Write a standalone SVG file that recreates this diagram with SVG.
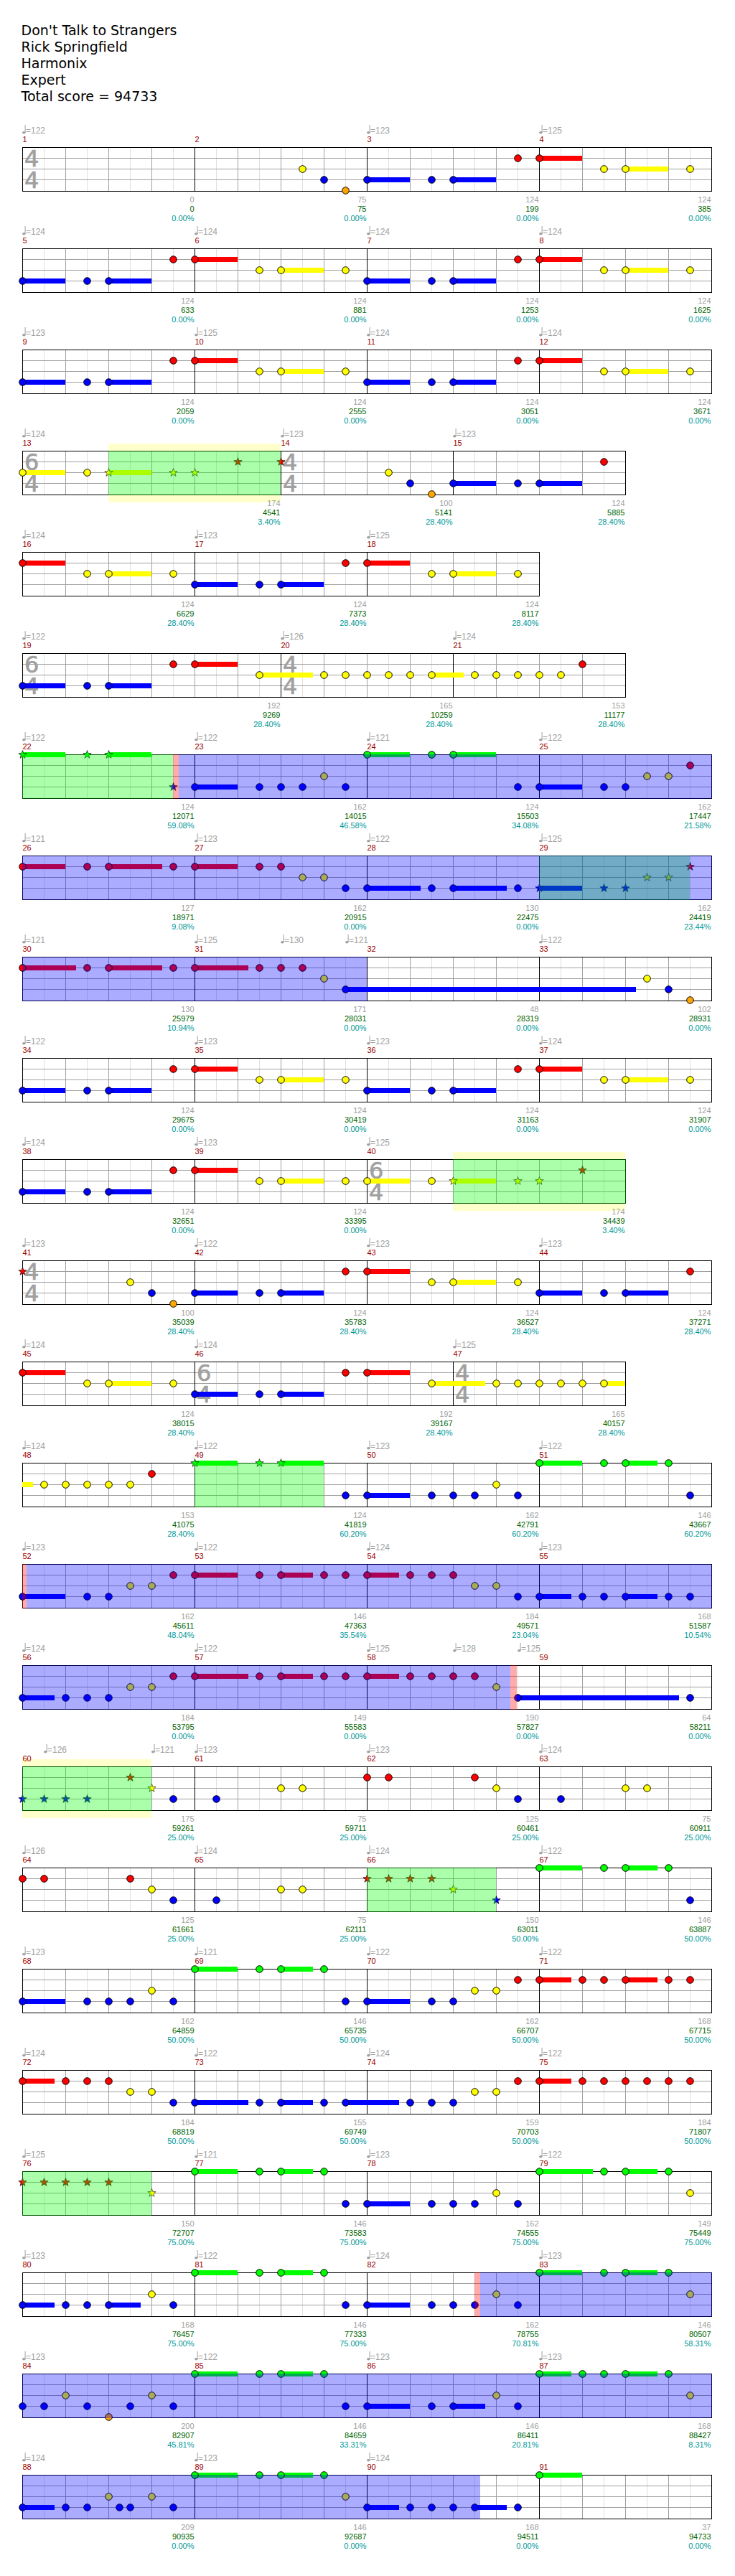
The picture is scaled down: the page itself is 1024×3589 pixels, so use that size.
<svg xmlns="http://www.w3.org/2000/svg" width="1024" height="3589" viewBox="0 0 1024 3589">
<style>
.t{font-family:"DejaVu Sans",Verdana,sans-serif;font-size:19px;fill:#000}
.tp{font-family:"Liberation Sans",Arial,sans-serif;font-size:12px;fill:#a0a0a0}
.mn{font-family:"Liberation Sans",Arial,sans-serif;font-size:11px;fill:#990000}
.a,.c,.p{font-family:"Liberation Sans",Arial,sans-serif;font-size:11px;text-anchor:end}
.a{fill:#a0a0a0}.c{fill:#006400}.p{fill:#009999}
.ts{font-family:"DejaVu Sans",sans-serif;font-size:32px;fill:#a0a0a0;stroke:#a0a0a0;stroke-width:0.7}
.gr{fill:url(#grid)}
.ml{fill:#000}
.bd{fill:none;stroke:#000;stroke-width:1}
circle{stroke:#000;stroke-width:1}
.r{fill:#ff0000}.y{fill:#ffff00}.b{fill:#0000ff}.g{fill:#00ff00}.o{fill:#ffa500}
.py{fill:#ffffcc}
.og{fill:#00ff00;fill-opacity:0.33}
.ob{fill:#0000ff;fill-opacity:0.33}
.op{fill:#ff0000;fill-opacity:0.33}
</style>
<defs>
<pattern id="grid" x="31" y="0" width="60" height="100" patternUnits="userSpaceOnUse">
<rect width="60" height="100" fill="#fff"/>
<rect x="30" width="1" height="61" fill="#e0e0e0"/>
<rect y="15" width="60" height="1" fill="#a0a0a0"/>
<rect y="30" width="60" height="1" fill="#a0a0a0"/>
<rect y="45" width="60" height="1" fill="#a0a0a0"/>
<rect width="1" height="61" fill="#a0a0a0"/>
</pattern>
<g id="q" fill="#a0a0a0"><ellipse cx="2.3" cy="-20.3" rx="2.3" ry="1.8"/><rect x="3.6" y="-31" width="1" height="11"/></g>
<path id="s" d="M0,-6 L1.41,-1.94 L5.71,-1.85 L2.28,0.74 L3.53,4.85 L0,2.4 L-3.53,4.85 L-2.28,0.74 L-5.71,-1.85 L-1.41,-1.94 Z" stroke="#000" stroke-width="0.6"/>
<g id="P">
<rect class="b" x="31" y="42" width="60" height="7"/>
<rect class="b" x="151" y="42" width="60" height="7"/>
<rect class="r" x="271" y="12" width="60" height="7"/>
<rect class="y" x="391" y="27" width="60" height="7"/>
<circle class="b" cx="31.5" cy="45.5" r="4.8"/>
<circle class="b" cx="121.5" cy="45.5" r="4.8"/>
<circle class="b" cx="151.5" cy="45.5" r="4.8"/>
<circle class="r" cx="241.5" cy="15.5" r="4.8"/>
<circle class="r" cx="271.5" cy="15.5" r="4.8"/>
<circle class="y" cx="361.5" cy="30.5" r="4.8"/>
<circle class="y" cx="391.5" cy="30.5" r="4.8"/>
<circle class="y" cx="481.5" cy="30.5" r="4.8"/>
</g>
<g id="GP">
<rect class="g" x="271" y="-3" width="60" height="7"/>
<rect class="g" x="391" y="-3" width="45" height="7"/>
<circle class="g" cx="271.5" cy="0.5" r="4.8"/>
<circle class="g" cx="361.5" cy="0.5" r="4.8"/>
<circle class="g" cx="391.5" cy="0.5" r="4.8"/>
<circle class="g" cx="451.5" cy="0.5" r="4.8"/>
</g>
<g id="GQ">
<rect class="g" x="751" y="-3" width="60" height="7"/>
<rect class="g" x="871" y="-3" width="45" height="7"/>
<circle class="g" cx="751.5" cy="0.5" r="4.8"/>
<circle class="g" cx="841.5" cy="0.5" r="4.8"/>
<circle class="g" cx="871.5" cy="0.5" r="4.8"/>
<circle class="g" cx="931.5" cy="0.5" r="4.8"/>
</g>
</defs>
<rect width="1024" height="3589" fill="#fff"/>
<g id="title">
<text class="t" x="29.5" y="49">Don't Talk to Strangers</text>
<text class="t" x="29.5" y="72">Rick Springfield</text>
<text class="t" x="29.5" y="95">Harmonix</text>
<text class="t" x="29.5" y="118">Expert</text>
<text class="t" x="29.5" y="141">Total score = 94733</text>
</g>

<g id="row1" transform="translate(0,205)">
<rect class="gr" x="31" width="960" height="61"/>
<rect class="ml" x="271" width="1" height="61"/><rect class="ml" x="511" width="1" height="61"/><rect class="ml" x="751" width="1" height="61"/>
<rect class="bd" x="31.5" y="0.5" width="960" height="61"/>
<text class="ts"><tspan x="34" y="27">4</tspan><tspan x="34" y="57">4</tspan></text>
<circle class="y" cx="421.5" cy="30.5" r="4.8"/>
<circle class="b" cx="451.5" cy="45.5" r="4.8"/>
<circle class="o" cx="481.5" cy="60.5" r="4.8"/>
<use href="#P" x="480"/>
<use href="#q" x="31"/><text class="tp" x="36" y="-19">=122</text>
<use href="#q" x="511"/><text class="tp" x="516" y="-19">=123</text>
<use href="#q" x="751"/><text class="tp" x="756" y="-19">=125</text>
<text class="mn" x="31.5" y="-7">1</text><text class="mn" x="271.5" y="-7">2</text><text class="mn" x="511.5" y="-7">3</text><text class="mn" x="751.5" y="-7">4</text>
<text class="a" x="270.5" y="77">0</text><text class="c" x="270.5" y="90">0</text><text class="p" x="270.5" y="103">0.00%</text>
<text class="a" x="510.5" y="77">75</text><text class="c" x="510.5" y="90">75</text><text class="p" x="510.5" y="103">0.00%</text>
<text class="a" x="750.5" y="77">124</text><text class="c" x="750.5" y="90">199</text><text class="p" x="750.5" y="103">0.00%</text>
<text class="a" x="990.5" y="77">124</text><text class="c" x="990.5" y="90">385</text><text class="p" x="990.5" y="103">0.00%</text>
</g>

<g id="row2" transform="translate(0,346)">
<rect class="gr" x="31" width="960" height="61"/>
<rect class="ml" x="271" width="1" height="61"/><rect class="ml" x="511" width="1" height="61"/><rect class="ml" x="751" width="1" height="61"/>
<rect class="bd" x="31.5" y="0.5" width="960" height="61"/>
<use href="#P"/><use href="#P" x="480"/>
<use href="#q" x="31"/><text class="tp" x="36" y="-19">=124</text>
<use href="#q" x="271"/><text class="tp" x="276" y="-19">=124</text>
<use href="#q" x="511"/><text class="tp" x="516" y="-19">=124</text>
<use href="#q" x="751"/><text class="tp" x="756" y="-19">=124</text>
<text class="mn" x="31.5" y="-7">5</text><text class="mn" x="271.5" y="-7">6</text><text class="mn" x="511.5" y="-7">7</text><text class="mn" x="751.5" y="-7">8</text>
<text class="a" x="270.5" y="77">124</text><text class="c" x="270.5" y="90">633</text><text class="p" x="270.5" y="103">0.00%</text>
<text class="a" x="510.5" y="77">124</text><text class="c" x="510.5" y="90">881</text><text class="p" x="510.5" y="103">0.00%</text>
<text class="a" x="750.5" y="77">124</text><text class="c" x="750.5" y="90">1253</text><text class="p" x="750.5" y="103">0.00%</text>
<text class="a" x="990.5" y="77">124</text><text class="c" x="990.5" y="90">1625</text><text class="p" x="990.5" y="103">0.00%</text>
</g>

<g id="row3" transform="translate(0,487)">
<rect class="gr" x="31" width="960" height="61"/>
<rect class="ml" x="271" width="1" height="61"/><rect class="ml" x="511" width="1" height="61"/><rect class="ml" x="751" width="1" height="61"/>
<rect class="bd" x="31.5" y="0.5" width="960" height="61"/>
<use href="#P"/><use href="#P" x="480"/>
<use href="#q" x="31"/><text class="tp" x="36" y="-19">=123</text>
<use href="#q" x="271"/><text class="tp" x="276" y="-19">=125</text>
<use href="#q" x="511"/><text class="tp" x="516" y="-19">=124</text>
<use href="#q" x="751"/><text class="tp" x="756" y="-19">=124</text>
<text class="mn" x="31.5" y="-7">9</text><text class="mn" x="271.5" y="-7">10</text><text class="mn" x="511.5" y="-7">11</text><text class="mn" x="751.5" y="-7">12</text>
<text class="a" x="270.5" y="77">124</text><text class="c" x="270.5" y="90">2059</text><text class="p" x="270.5" y="103">0.00%</text>
<text class="a" x="510.5" y="77">124</text><text class="c" x="510.5" y="90">2555</text><text class="p" x="510.5" y="103">0.00%</text>
<text class="a" x="750.5" y="77">124</text><text class="c" x="750.5" y="90">3051</text><text class="p" x="750.5" y="103">0.00%</text>
<text class="a" x="990.5" y="77">124</text><text class="c" x="990.5" y="90">3671</text><text class="p" x="990.5" y="103">0.00%</text>
</g>

<g id="row4" transform="translate(0,628)">
<rect class="py" x="151" y="-10" width="240" height="82"/>
<rect class="gr" x="31" width="840" height="61"/>
<rect class="ml" x="391" width="1" height="61"/><rect class="ml" x="631" width="1" height="61"/>
<rect class="bd" x="31.5" y="0.5" width="840" height="61"/>
<text class="ts"><tspan x="34" y="27">6</tspan><tspan x="34" y="57">4</tspan></text>
<text class="ts"><tspan x="394" y="27">4</tspan><tspan x="394" y="57">4</tspan></text>
<rect class="y" x="31" y="27" width="60" height="7"/>
<circle class="y" cx="31.5" cy="30.5" r="4.8"/>
<circle class="y" cx="121.5" cy="30.5" r="4.8"/>
<rect class="y" x="151" y="27" width="60" height="7"/>
<use href="#s" class="y" x="151.5" y="30.5"/>
<use href="#s" class="y" x="241.5" y="30.5"/>
<use href="#s" class="y" x="271.5" y="30.5"/>
<use href="#s" class="r" x="331.5" y="15.5"/>
<use href="#s" class="r" x="391.5" y="15.5"/>
<circle class="y" cx="541.5" cy="30.5" r="4.8"/>
<circle class="b" cx="571.5" cy="45.5" r="4.8"/>
<circle class="o" cx="601.5" cy="60.5" r="4.8"/>
<rect class="b" x="631" y="42" width="60" height="7"/>
<circle class="b" cx="631.5" cy="45.5" r="4.8"/>
<circle class="b" cx="721.5" cy="45.5" r="4.8"/>
<rect class="b" x="751" y="42" width="60" height="7"/>
<circle class="b" cx="751.5" cy="45.5" r="4.8"/>
<circle class="r" cx="841.5" cy="15.5" r="4.8"/>
<rect class="og" x="151" width="240" height="62"/>
<use href="#q" x="31"/><text class="tp" x="36" y="-19">=124</text>
<use href="#q" x="391"/><text class="tp" x="396" y="-19">=123</text>
<use href="#q" x="631"/><text class="tp" x="636" y="-19">=123</text>
<text class="mn" x="31.5" y="-7">13</text><text class="mn" x="391.5" y="-7">14</text><text class="mn" x="631.5" y="-7">15</text>
<text class="a" x="390.5" y="77">174</text><text class="c" x="390.5" y="90">4541</text><text class="p" x="390.5" y="103">3.40%</text>
<text class="a" x="630.5" y="77">100</text><text class="c" x="630.5" y="90">5141</text><text class="p" x="630.5" y="103">28.40%</text>
<text class="a" x="870.5" y="77">124</text><text class="c" x="870.5" y="90">5885</text><text class="p" x="870.5" y="103">28.40%</text>
</g>

<g id="row5" transform="translate(0,769)">
<rect class="gr" x="31" width="720" height="61"/>
<rect class="ml" x="271" width="1" height="61"/><rect class="ml" x="511" width="1" height="61"/>
<rect class="bd" x="31.5" y="0.5" width="720" height="61"/>
<rect class="r" x="31" y="12" width="60" height="7"/>
<circle class="r" cx="31.5" cy="15.5" r="4.8"/>
<circle class="y" cx="121.5" cy="30.5" r="4.8"/>
<rect class="y" x="151" y="27" width="60" height="7"/>
<circle class="y" cx="151.5" cy="30.5" r="4.8"/>
<circle class="y" cx="241.5" cy="30.5" r="4.8"/>
<use href="#P" x="240"/>
<use href="#q" x="31"/><text class="tp" x="36" y="-19">=124</text>
<use href="#q" x="271"/><text class="tp" x="276" y="-19">=123</text>
<use href="#q" x="511"/><text class="tp" x="516" y="-19">=125</text>
<text class="mn" x="31.5" y="-7">16</text><text class="mn" x="271.5" y="-7">17</text><text class="mn" x="511.5" y="-7">18</text>
<text class="a" x="270.5" y="77">124</text><text class="c" x="270.5" y="90">6629</text><text class="p" x="270.5" y="103">28.40%</text>
<text class="a" x="510.5" y="77">124</text><text class="c" x="510.5" y="90">7373</text><text class="p" x="510.5" y="103">28.40%</text>
<text class="a" x="750.5" y="77">124</text><text class="c" x="750.5" y="90">8117</text><text class="p" x="750.5" y="103">28.40%</text>
</g>

<g id="row6" transform="translate(0,910)">
<rect class="gr" x="31" width="840" height="61"/>
<rect class="ml" x="391" width="1" height="61"/><rect class="ml" x="631" width="1" height="61"/>
<rect class="bd" x="31.5" y="0.5" width="840" height="61"/>
<text class="ts"><tspan x="34" y="27">6</tspan><tspan x="34" y="57">4</tspan></text>
<text class="ts"><tspan x="394" y="27">4</tspan><tspan x="394" y="57">4</tspan></text>
<rect class="b" x="31" y="42" width="60" height="7"/>
<rect class="b" x="151" y="42" width="60" height="7"/>
<rect class="r" x="271" y="12" width="60" height="7"/>
<rect class="y" x="361" y="27" width="75" height="7"/>
<rect class="y" x="601" y="27" width="45" height="7"/>
<circle class="b" cx="31.5" cy="45.5" r="4.8"/>
<circle class="b" cx="121.5" cy="45.5" r="4.8"/>
<circle class="b" cx="151.5" cy="45.5" r="4.8"/>
<circle class="r" cx="241.5" cy="15.5" r="4.8"/>
<circle class="r" cx="271.5" cy="15.5" r="4.8"/>
<circle class="y" cx="361.5" cy="30.5" r="4.8"/>
<circle class="y" cx="451.5" cy="30.5" r="4.8"/>
<circle class="y" cx="481.5" cy="30.5" r="4.8"/>
<circle class="y" cx="511.5" cy="30.5" r="4.8"/>
<circle class="y" cx="541.5" cy="30.5" r="4.8"/>
<circle class="y" cx="571.5" cy="30.5" r="4.8"/>
<circle class="y" cx="601.5" cy="30.5" r="4.8"/>
<circle class="y" cx="661.5" cy="30.5" r="4.8"/>
<circle class="y" cx="691.5" cy="30.5" r="4.8"/>
<circle class="y" cx="721.5" cy="30.5" r="4.8"/>
<circle class="y" cx="751.5" cy="30.5" r="4.8"/>
<circle class="y" cx="781.5" cy="30.5" r="4.8"/>
<circle class="r" cx="811.5" cy="15.5" r="4.8"/>
<use href="#q" x="31"/><text class="tp" x="36" y="-19">=122</text>
<use href="#q" x="391"/><text class="tp" x="396" y="-19">=126</text>
<use href="#q" x="631"/><text class="tp" x="636" y="-19">=124</text>
<text class="mn" x="31.5" y="-7">19</text><text class="mn" x="391.5" y="-7">20</text><text class="mn" x="631.5" y="-7">21</text>
<text class="a" x="390.5" y="77">192</text><text class="c" x="390.5" y="90">9269</text><text class="p" x="390.5" y="103">28.40%</text>
<text class="a" x="630.5" y="77">165</text><text class="c" x="630.5" y="90">10259</text><text class="p" x="630.5" y="103">28.40%</text>
<text class="a" x="870.5" y="77">153</text><text class="c" x="870.5" y="90">11177</text><text class="p" x="870.5" y="103">28.40%</text>
</g>

<g id="row7" transform="translate(0,1051)">
<rect class="gr" x="31" width="960" height="61"/>
<rect class="ml" x="271" width="1" height="61"/><rect class="ml" x="511" width="1" height="61"/><rect class="ml" x="751" width="1" height="61"/>
<rect class="bd" x="31.5" y="0.5" width="960" height="61"/>
<rect class="g" x="31" y="-3" width="60" height="7"/>
<rect class="g" x="151" y="-3" width="60" height="7"/>
<use href="#s" class="g" x="31.5" y="0.5"/>
<use href="#s" class="g" x="121.5" y="0.5"/>
<use href="#s" class="g" x="151.5" y="0.5"/>
<use href="#s" class="b" x="241.5" y="45.5"/>
<rect class="b" x="271" y="42" width="60" height="7"/>
<circle class="b" cx="271.5" cy="45.5" r="4.8"/>
<circle class="b" cx="361.5" cy="45.5" r="4.8"/>
<circle class="b" cx="391.5" cy="45.5" r="4.8"/>
<circle class="b" cx="421.5" cy="45.5" r="4.8"/>
<circle class="y" cx="451.5" cy="30.5" r="4.8"/>
<circle class="b" cx="481.5" cy="45.5" r="4.8"/>
<rect class="g" x="511" y="-3" width="60" height="7"/>
<rect class="g" x="631" y="-3" width="60" height="7"/>
<circle class="g" cx="511.5" cy="0.5" r="4.8"/>
<circle class="g" cx="601.5" cy="0.5" r="4.8"/>
<circle class="g" cx="631.5" cy="0.5" r="4.8"/>
<circle class="b" cx="721.5" cy="45.5" r="4.8"/>
<rect class="b" x="751" y="42" width="60" height="7"/>
<circle class="b" cx="751.5" cy="45.5" r="4.8"/>
<circle class="b" cx="841.5" cy="45.5" r="4.8"/>
<circle class="b" cx="871.5" cy="45.5" r="4.8"/>
<circle class="y" cx="901.5" cy="30.5" r="4.8"/>
<circle class="y" cx="931.5" cy="30.5" r="4.8"/>
<circle class="r" cx="961.5" cy="15.5" r="4.8"/>
<rect class="og" x="31" width="210" height="62"/>
<rect class="op" x="241" width="8" height="62"/>
<rect class="ob" x="249" width="743" height="62"/>
<use href="#q" x="31"/><text class="tp" x="36" y="-19">=122</text>
<use href="#q" x="271"/><text class="tp" x="276" y="-19">=122</text>
<use href="#q" x="511"/><text class="tp" x="516" y="-19">=121</text>
<use href="#q" x="751"/><text class="tp" x="756" y="-19">=122</text>
<text class="mn" x="31.5" y="-7">22</text><text class="mn" x="271.5" y="-7">23</text><text class="mn" x="511.5" y="-7">24</text><text class="mn" x="751.5" y="-7">25</text>
<text class="a" x="270.5" y="77">124</text><text class="c" x="270.5" y="90">12071</text><text class="p" x="270.5" y="103">59.08%</text>
<text class="a" x="510.5" y="77">162</text><text class="c" x="510.5" y="90">14015</text><text class="p" x="510.5" y="103">46.58%</text>
<text class="a" x="750.5" y="77">124</text><text class="c" x="750.5" y="90">15503</text><text class="p" x="750.5" y="103">34.08%</text>
<text class="a" x="990.5" y="77">162</text><text class="c" x="990.5" y="90">17447</text><text class="p" x="990.5" y="103">21.58%</text>
</g>

<g id="row8" transform="translate(0,1192)">
<rect class="gr" x="31" width="960" height="61"/>
<rect class="ml" x="271" width="1" height="61"/><rect class="ml" x="511" width="1" height="61"/><rect class="ml" x="751" width="1" height="61"/>
<rect class="bd" x="31.5" y="0.5" width="960" height="61"/>
<rect class="r" x="31" y="12" width="60" height="7"/>
<rect class="r" x="151" y="12" width="75" height="7"/>
<rect class="r" x="271" y="12" width="60" height="7"/>
<circle class="r" cx="31.5" cy="15.5" r="4.8"/>
<circle class="r" cx="121.5" cy="15.5" r="4.8"/>
<circle class="r" cx="151.5" cy="15.5" r="4.8"/>
<circle class="r" cx="241.5" cy="15.5" r="4.8"/>
<circle class="r" cx="271.5" cy="15.5" r="4.8"/>
<circle class="r" cx="361.5" cy="15.5" r="4.8"/>
<circle class="r" cx="391.5" cy="15.5" r="4.8"/>
<circle class="y" cx="421.5" cy="30.5" r="4.8"/>
<circle class="y" cx="451.5" cy="30.5" r="4.8"/>
<circle class="b" cx="481.5" cy="45.5" r="4.8"/>
<rect class="b" x="511" y="42" width="75" height="7"/>
<rect class="b" x="631" y="42" width="75" height="7"/>
<circle class="b" cx="511.5" cy="45.5" r="4.8"/>
<circle class="b" cx="601.5" cy="45.5" r="4.8"/>
<circle class="b" cx="631.5" cy="45.5" r="4.8"/>
<circle class="b" cx="721.5" cy="45.5" r="4.8"/>
<rect class="b" x="751" y="42" width="60" height="7"/>
<use href="#s" class="b" x="751.5" y="45.5"/>
<use href="#s" class="b" x="841.5" y="45.5"/>
<use href="#s" class="b" x="871.5" y="45.5"/>
<use href="#s" class="y" x="901.5" y="30.5"/>
<use href="#s" class="y" x="931.5" y="30.5"/>
<use href="#s" class="r" x="961.5" y="15.5"/>
<rect class="og" x="751" width="210" height="62"/>
<rect class="ob" x="31" width="961" height="62"/>
<use href="#q" x="31"/><text class="tp" x="36" y="-19">=121</text>
<use href="#q" x="271"/><text class="tp" x="276" y="-19">=123</text>
<use href="#q" x="511"/><text class="tp" x="516" y="-19">=122</text>
<use href="#q" x="751"/><text class="tp" x="756" y="-19">=125</text>
<text class="mn" x="31.5" y="-7">26</text><text class="mn" x="271.5" y="-7">27</text><text class="mn" x="511.5" y="-7">28</text><text class="mn" x="751.5" y="-7">29</text>
<text class="a" x="270.5" y="77">127</text><text class="c" x="270.5" y="90">18971</text><text class="p" x="270.5" y="103">9.08%</text>
<text class="a" x="510.5" y="77">162</text><text class="c" x="510.5" y="90">20915</text><text class="p" x="510.5" y="103">0.00%</text>
<text class="a" x="750.5" y="77">130</text><text class="c" x="750.5" y="90">22475</text><text class="p" x="750.5" y="103">0.00%</text>
<text class="a" x="990.5" y="77">162</text><text class="c" x="990.5" y="90">24419</text><text class="p" x="990.5" y="103">23.44%</text>
</g>

<g id="row9" transform="translate(0,1333)">
<rect class="gr" x="31" width="960" height="61"/>
<rect class="ml" x="271" width="1" height="61"/><rect class="ml" x="511" width="1" height="61"/><rect class="ml" x="751" width="1" height="61"/>
<rect class="bd" x="31.5" y="0.5" width="960" height="61"/>
<rect class="r" x="31" y="12" width="75" height="7"/>
<rect class="r" x="151" y="12" width="75" height="7"/>
<rect class="r" x="271" y="12" width="75" height="7"/>
<circle class="r" cx="31.5" cy="15.5" r="4.8"/>
<circle class="r" cx="121.5" cy="15.5" r="4.8"/>
<circle class="r" cx="151.5" cy="15.5" r="4.8"/>
<circle class="r" cx="241.5" cy="15.5" r="4.8"/>
<circle class="r" cx="271.5" cy="15.5" r="4.8"/>
<circle class="r" cx="361.5" cy="15.5" r="4.8"/>
<circle class="r" cx="391.5" cy="15.5" r="4.8"/>
<circle class="r" cx="421.5" cy="15.5" r="4.8"/>
<circle class="y" cx="451.5" cy="30.5" r="4.8"/>
<rect class="b" x="481" y="42" width="405" height="7"/>
<circle class="b" cx="481.5" cy="45.5" r="4.8"/>
<circle class="y" cx="901.5" cy="30.5" r="4.8"/>
<circle class="b" cx="931.5" cy="45.5" r="4.8"/>
<circle class="o" cx="961.5" cy="60.5" r="4.8"/>
<rect class="ob" x="31" width="480" height="62"/>
<use href="#q" x="31"/><text class="tp" x="36" y="-19">=121</text>
<use href="#q" x="271"/><text class="tp" x="276" y="-19">=125</text>
<use href="#q" x="391"/><text class="tp" x="396" y="-19">=130</text>
<use href="#q" x="481"/><text class="tp" x="486" y="-19">=121</text>
<use href="#q" x="751"/><text class="tp" x="756" y="-19">=122</text>
<text class="mn" x="31.5" y="-7">30</text><text class="mn" x="271.5" y="-7">31</text><text class="mn" x="511.5" y="-7">32</text><text class="mn" x="751.5" y="-7">33</text>
<text class="a" x="270.5" y="77">130</text><text class="c" x="270.5" y="90">25979</text><text class="p" x="270.5" y="103">10.94%</text>
<text class="a" x="510.5" y="77">171</text><text class="c" x="510.5" y="90">28031</text><text class="p" x="510.5" y="103">0.00%</text>
<text class="a" x="750.5" y="77">48</text><text class="c" x="750.5" y="90">28319</text><text class="p" x="750.5" y="103">0.00%</text>
<text class="a" x="990.5" y="77">102</text><text class="c" x="990.5" y="90">28931</text><text class="p" x="990.5" y="103">0.00%</text>
</g>

<g id="row10" transform="translate(0,1474)">
<rect class="gr" x="31" width="960" height="61"/>
<rect class="ml" x="271" width="1" height="61"/><rect class="ml" x="511" width="1" height="61"/><rect class="ml" x="751" width="1" height="61"/>
<rect class="bd" x="31.5" y="0.5" width="960" height="61"/>
<use href="#P"/><use href="#P" x="480"/>
<use href="#q" x="31"/><text class="tp" x="36" y="-19">=122</text>
<use href="#q" x="271"/><text class="tp" x="276" y="-19">=123</text>
<use href="#q" x="511"/><text class="tp" x="516" y="-19">=123</text>
<use href="#q" x="751"/><text class="tp" x="756" y="-19">=124</text>
<text class="mn" x="31.5" y="-7">34</text><text class="mn" x="271.5" y="-7">35</text><text class="mn" x="511.5" y="-7">36</text><text class="mn" x="751.5" y="-7">37</text>
<text class="a" x="270.5" y="77">124</text><text class="c" x="270.5" y="90">29675</text><text class="p" x="270.5" y="103">0.00%</text>
<text class="a" x="510.5" y="77">124</text><text class="c" x="510.5" y="90">30419</text><text class="p" x="510.5" y="103">0.00%</text>
<text class="a" x="750.5" y="77">124</text><text class="c" x="750.5" y="90">31163</text><text class="p" x="750.5" y="103">0.00%</text>
<text class="a" x="990.5" y="77">124</text><text class="c" x="990.5" y="90">31907</text><text class="p" x="990.5" y="103">0.00%</text>
</g>

<g id="row11" transform="translate(0,1615)">
<rect class="py" x="631" y="-10" width="240" height="82"/>
<rect class="gr" x="31" width="840" height="61"/>
<rect class="ml" x="271" width="1" height="61"/><rect class="ml" x="511" width="1" height="61"/>
<rect class="bd" x="31.5" y="0.5" width="840" height="61"/>
<text class="ts"><tspan x="514" y="27">6</tspan><tspan x="514" y="57">4</tspan></text>
<use href="#P"/>
<rect class="y" x="511" y="27" width="60" height="7"/>
<circle class="y" cx="511.5" cy="30.5" r="4.8"/>
<circle class="y" cx="601.5" cy="30.5" r="4.8"/>
<rect class="y" x="631" y="27" width="60" height="7"/>
<use href="#s" class="y" x="631.5" y="30.5"/>
<use href="#s" class="y" x="721.5" y="30.5"/>
<use href="#s" class="y" x="751.5" y="30.5"/>
<use href="#s" class="r" x="811.5" y="15.5"/>
<rect class="og" x="631" width="241" height="62"/>
<use href="#q" x="31"/><text class="tp" x="36" y="-19">=124</text>
<use href="#q" x="271"/><text class="tp" x="276" y="-19">=123</text>
<use href="#q" x="511"/><text class="tp" x="516" y="-19">=125</text>
<text class="mn" x="31.5" y="-7">38</text><text class="mn" x="271.5" y="-7">39</text><text class="mn" x="511.5" y="-7">40</text>
<text class="a" x="270.5" y="77">124</text><text class="c" x="270.5" y="90">32651</text><text class="p" x="270.5" y="103">0.00%</text>
<text class="a" x="510.5" y="77">124</text><text class="c" x="510.5" y="90">33395</text><text class="p" x="510.5" y="103">0.00%</text>
<text class="a" x="870.5" y="77">174</text><text class="c" x="870.5" y="90">34439</text><text class="p" x="870.5" y="103">3.40%</text>
</g>

<g id="row12" transform="translate(0,1756)">
<rect class="gr" x="31" width="960" height="61"/>
<rect class="ml" x="271" width="1" height="61"/><rect class="ml" x="511" width="1" height="61"/><rect class="ml" x="751" width="1" height="61"/>
<rect class="bd" x="31.5" y="0.5" width="960" height="61"/>
<text class="ts"><tspan x="34" y="27">4</tspan><tspan x="34" y="57">4</tspan></text>
<use href="#s" class="r" x="31.5" y="15.5"/>
<circle class="y" cx="181.5" cy="30.5" r="4.8"/>
<circle class="b" cx="211.5" cy="45.5" r="4.8"/>
<circle class="o" cx="241.5" cy="60.5" r="4.8"/>
<use href="#P" x="240"/>
<rect class="b" x="751" y="42" width="60" height="7"/>
<rect class="b" x="871" y="42" width="60" height="7"/>
<circle class="b" cx="751.5" cy="45.5" r="4.8"/>
<circle class="b" cx="841.5" cy="45.5" r="4.8"/>
<circle class="b" cx="871.5" cy="45.5" r="4.8"/>
<circle class="r" cx="961.5" cy="15.5" r="4.8"/>
<use href="#q" x="31"/><text class="tp" x="36" y="-19">=123</text>
<use href="#q" x="271"/><text class="tp" x="276" y="-19">=122</text>
<use href="#q" x="511"/><text class="tp" x="516" y="-19">=123</text>
<use href="#q" x="751"/><text class="tp" x="756" y="-19">=123</text>
<text class="mn" x="31.5" y="-7">41</text><text class="mn" x="271.5" y="-7">42</text><text class="mn" x="511.5" y="-7">43</text><text class="mn" x="751.5" y="-7">44</text>
<text class="a" x="270.5" y="77">100</text><text class="c" x="270.5" y="90">35039</text><text class="p" x="270.5" y="103">28.40%</text>
<text class="a" x="510.5" y="77">124</text><text class="c" x="510.5" y="90">35783</text><text class="p" x="510.5" y="103">28.40%</text>
<text class="a" x="750.5" y="77">124</text><text class="c" x="750.5" y="90">36527</text><text class="p" x="750.5" y="103">28.40%</text>
<text class="a" x="990.5" y="77">124</text><text class="c" x="990.5" y="90">37271</text><text class="p" x="990.5" y="103">28.40%</text>
</g>

<g id="row13" transform="translate(0,1897)">
<rect class="gr" x="31" width="840" height="61"/>
<rect class="ml" x="271" width="1" height="61"/><rect class="ml" x="631" width="1" height="61"/>
<rect class="bd" x="31.5" y="0.5" width="840" height="61"/>
<text class="ts"><tspan x="274" y="27">6</tspan><tspan x="274" y="57">4</tspan></text>
<text class="ts"><tspan x="634" y="27">4</tspan><tspan x="634" y="57">4</tspan></text>
<rect class="r" x="31" y="12" width="60" height="7"/>
<circle class="r" cx="31.5" cy="15.5" r="4.8"/>
<circle class="y" cx="121.5" cy="30.5" r="4.8"/>
<rect class="y" x="151" y="27" width="60" height="7"/>
<circle class="y" cx="151.5" cy="30.5" r="4.8"/>
<circle class="y" cx="241.5" cy="30.5" r="4.8"/>
<rect class="b" x="271" y="42" width="60" height="7"/>
<rect class="b" x="391" y="42" width="60" height="7"/>
<circle class="b" cx="271.5" cy="45.5" r="4.8"/>
<circle class="b" cx="361.5" cy="45.5" r="4.8"/>
<circle class="b" cx="391.5" cy="45.5" r="4.8"/>
<circle class="r" cx="481.5" cy="15.5" r="4.8"/>
<rect class="r" x="511" y="12" width="60" height="7"/>
<circle class="r" cx="511.5" cy="15.5" r="4.8"/>
<rect class="y" x="601" y="27" width="75" height="7"/>
<circle class="y" cx="601.5" cy="30.5" r="4.8"/>
<circle class="y" cx="691.5" cy="30.5" r="4.8"/>
<circle class="y" cx="721.5" cy="30.5" r="4.8"/>
<circle class="y" cx="751.5" cy="30.5" r="4.8"/>
<circle class="y" cx="781.5" cy="30.5" r="4.8"/>
<circle class="y" cx="811.5" cy="30.5" r="4.8"/>
<rect class="y" x="841" y="27" width="30" height="7"/>
<circle class="y" cx="841.5" cy="30.5" r="4.8"/>
<use href="#q" x="31"/><text class="tp" x="36" y="-19">=124</text>
<use href="#q" x="271"/><text class="tp" x="276" y="-19">=124</text>
<use href="#q" x="631"/><text class="tp" x="636" y="-19">=125</text>
<text class="mn" x="31.5" y="-7">45</text><text class="mn" x="271.5" y="-7">46</text><text class="mn" x="631.5" y="-7">47</text>
<text class="a" x="270.5" y="77">124</text><text class="c" x="270.5" y="90">38015</text><text class="p" x="270.5" y="103">28.40%</text>
<text class="a" x="630.5" y="77">192</text><text class="c" x="630.5" y="90">39167</text><text class="p" x="630.5" y="103">28.40%</text>
<text class="a" x="870.5" y="77">165</text><text class="c" x="870.5" y="90">40157</text><text class="p" x="870.5" y="103">28.40%</text>
</g>

<g id="row14" transform="translate(0,2038)">
<rect class="gr" x="31" width="960" height="61"/>
<rect class="ml" x="271" width="1" height="61"/><rect class="ml" x="511" width="1" height="61"/><rect class="ml" x="751" width="1" height="61"/>
<rect class="bd" x="31.5" y="0.5" width="960" height="61"/>
<rect class="y" x="31" y="27" width="15" height="7"/>
<circle class="y" cx="61.5" cy="30.5" r="4.8"/>
<circle class="y" cx="91.5" cy="30.5" r="4.8"/>
<circle class="y" cx="121.5" cy="30.5" r="4.8"/>
<circle class="y" cx="151.5" cy="30.5" r="4.8"/>
<circle class="y" cx="181.5" cy="30.5" r="4.8"/>
<circle class="r" cx="211.5" cy="15.5" r="4.8"/>
<rect class="g" x="271" y="-3" width="60" height="7"/>
<rect class="g" x="391" y="-3" width="60" height="7"/>
<use href="#s" class="g" x="271.5" y="0.5"/>
<use href="#s" class="g" x="361.5" y="0.5"/>
<use href="#s" class="g" x="391.5" y="0.5"/>
<circle class="b" cx="481.5" cy="45.5" r="4.8"/>
<rect class="b" x="511" y="42" width="60" height="7"/>
<circle class="b" cx="511.5" cy="45.5" r="4.8"/>
<circle class="b" cx="601.5" cy="45.5" r="4.8"/>
<circle class="b" cx="631.5" cy="45.5" r="4.8"/>
<circle class="b" cx="661.5" cy="45.5" r="4.8"/>
<circle class="y" cx="691.5" cy="30.5" r="4.8"/>
<circle class="b" cx="721.5" cy="45.5" r="4.8"/>
<use href="#GQ"/>
<circle class="b" cx="961.5" cy="45.5" r="4.8"/>
<rect class="og" x="271" width="180" height="62"/>
<use href="#q" x="31"/><text class="tp" x="36" y="-19">=124</text>
<use href="#q" x="271"/><text class="tp" x="276" y="-19">=122</text>
<use href="#q" x="511"/><text class="tp" x="516" y="-19">=123</text>
<use href="#q" x="751"/><text class="tp" x="756" y="-19">=122</text>
<text class="mn" x="31.5" y="-7">48</text><text class="mn" x="271.5" y="-7">49</text><text class="mn" x="511.5" y="-7">50</text><text class="mn" x="751.5" y="-7">51</text>
<text class="a" x="270.5" y="77">153</text><text class="c" x="270.5" y="90">41075</text><text class="p" x="270.5" y="103">28.40%</text>
<text class="a" x="510.5" y="77">124</text><text class="c" x="510.5" y="90">41819</text><text class="p" x="510.5" y="103">60.20%</text>
<text class="a" x="750.5" y="77">162</text><text class="c" x="750.5" y="90">42791</text><text class="p" x="750.5" y="103">60.20%</text>
<text class="a" x="990.5" y="77">146</text><text class="c" x="990.5" y="90">43667</text><text class="p" x="990.5" y="103">60.20%</text>
</g>

<g id="row15" transform="translate(0,2179)">
<rect class="gr" x="31" width="960" height="61"/>
<rect class="ml" x="271" width="1" height="61"/><rect class="ml" x="511" width="1" height="61"/><rect class="ml" x="751" width="1" height="61"/>
<rect class="bd" x="31.5" y="0.5" width="960" height="61"/>
<rect class="b" x="31" y="42" width="60" height="7"/>
<circle class="b" cx="31.5" cy="45.5" r="4.8"/>
<circle class="b" cx="121.5" cy="45.5" r="4.8"/>
<circle class="b" cx="151.5" cy="45.5" r="4.8"/>
<circle class="y" cx="181.5" cy="30.5" r="4.8"/>
<circle class="y" cx="211.5" cy="30.5" r="4.8"/>
<circle class="r" cx="241.5" cy="15.5" r="4.8"/>
<rect class="r" x="271" y="12" width="60" height="7"/>
<rect class="r" x="391" y="12" width="45" height="7"/>
<rect class="r" x="511" y="12" width="45" height="7"/>
<circle class="r" cx="271.5" cy="15.5" r="4.8"/>
<circle class="r" cx="361.5" cy="15.5" r="4.8"/>
<circle class="r" cx="391.5" cy="15.5" r="4.8"/>
<circle class="r" cx="451.5" cy="15.5" r="4.8"/>
<circle class="r" cx="481.5" cy="15.5" r="4.8"/>
<circle class="r" cx="511.5" cy="15.5" r="4.8"/>
<circle class="r" cx="571.5" cy="15.5" r="4.8"/>
<circle class="r" cx="601.5" cy="15.5" r="4.8"/>
<circle class="r" cx="631.5" cy="15.5" r="4.8"/>
<circle class="y" cx="661.5" cy="30.5" r="4.8"/>
<circle class="y" cx="691.5" cy="30.5" r="4.8"/>
<circle class="b" cx="721.5" cy="45.5" r="4.8"/>
<rect class="b" x="751" y="42" width="45" height="7"/>
<rect class="b" x="871" y="42" width="45" height="7"/>
<circle class="b" cx="751.5" cy="45.5" r="4.8"/>
<circle class="b" cx="811.5" cy="45.5" r="4.8"/>
<circle class="b" cx="841.5" cy="45.5" r="4.8"/>
<circle class="b" cx="871.5" cy="45.5" r="4.8"/>
<circle class="b" cx="931.5" cy="45.5" r="4.8"/>
<circle class="b" cx="961.5" cy="45.5" r="4.8"/>
<rect class="op" x="31" width="6" height="62"/>
<rect class="ob" x="37" width="955" height="62"/>
<use href="#q" x="31"/><text class="tp" x="36" y="-19">=123</text>
<use href="#q" x="271"/><text class="tp" x="276" y="-19">=122</text>
<use href="#q" x="511"/><text class="tp" x="516" y="-19">=124</text>
<use href="#q" x="751"/><text class="tp" x="756" y="-19">=123</text>
<text class="mn" x="31.5" y="-7">52</text><text class="mn" x="271.5" y="-7">53</text><text class="mn" x="511.5" y="-7">54</text><text class="mn" x="751.5" y="-7">55</text>
<text class="a" x="270.5" y="77">162</text><text class="c" x="270.5" y="90">45611</text><text class="p" x="270.5" y="103">48.04%</text>
<text class="a" x="510.5" y="77">146</text><text class="c" x="510.5" y="90">47363</text><text class="p" x="510.5" y="103">35.54%</text>
<text class="a" x="750.5" y="77">184</text><text class="c" x="750.5" y="90">49571</text><text class="p" x="750.5" y="103">23.04%</text>
<text class="a" x="990.5" y="77">168</text><text class="c" x="990.5" y="90">51587</text><text class="p" x="990.5" y="103">10.54%</text>
</g>

<g id="row16" transform="translate(0,2320)">
<rect class="gr" x="31" width="960" height="61"/>
<rect class="ml" x="271" width="1" height="61"/><rect class="ml" x="511" width="1" height="61"/><rect class="ml" x="751" width="1" height="61"/>
<rect class="bd" x="31.5" y="0.5" width="960" height="61"/>
<rect class="b" x="31" y="42" width="45" height="7"/>
<circle class="b" cx="31.5" cy="45.5" r="4.8"/>
<circle class="b" cx="91.5" cy="45.5" r="4.8"/>
<circle class="b" cx="121.5" cy="45.5" r="4.8"/>
<circle class="b" cx="151.5" cy="45.5" r="4.8"/>
<circle class="y" cx="181.5" cy="30.5" r="4.8"/>
<circle class="y" cx="211.5" cy="30.5" r="4.8"/>
<circle class="r" cx="241.5" cy="15.5" r="4.8"/>
<rect class="r" x="271" y="12" width="75" height="7"/>
<rect class="r" x="391" y="12" width="45" height="7"/>
<rect class="r" x="511" y="12" width="45" height="7"/>
<circle class="r" cx="271.5" cy="15.5" r="4.8"/>
<circle class="r" cx="361.5" cy="15.5" r="4.8"/>
<circle class="r" cx="391.5" cy="15.5" r="4.8"/>
<circle class="r" cx="451.5" cy="15.5" r="4.8"/>
<circle class="r" cx="481.5" cy="15.5" r="4.8"/>
<circle class="r" cx="511.5" cy="15.5" r="4.8"/>
<circle class="r" cx="571.5" cy="15.5" r="4.8"/>
<circle class="r" cx="601.5" cy="15.5" r="4.8"/>
<circle class="r" cx="631.5" cy="15.5" r="4.8"/>
<circle class="r" cx="661.5" cy="15.5" r="4.8"/>
<circle class="y" cx="691.5" cy="30.5" r="4.8"/>
<rect class="b" x="721" y="42" width="225" height="7"/>
<circle class="b" cx="721.5" cy="45.5" r="4.8"/>
<circle class="b" cx="961.5" cy="45.5" r="4.8"/>
<rect class="ob" x="31" width="680" height="62"/>
<rect class="op" x="711" width="9" height="62"/>
<use href="#q" x="31"/><text class="tp" x="36" y="-19">=124</text>
<use href="#q" x="271"/><text class="tp" x="276" y="-19">=122</text>
<use href="#q" x="511"/><text class="tp" x="516" y="-19">=125</text>
<use href="#q" x="631"/><text class="tp" x="636" y="-19">=128</text>
<use href="#q" x="721"/><text class="tp" x="726" y="-19">=125</text>
<text class="mn" x="31.5" y="-7">56</text><text class="mn" x="271.5" y="-7">57</text><text class="mn" x="511.5" y="-7">58</text><text class="mn" x="751.5" y="-7">59</text>
<text class="a" x="270.5" y="77">184</text><text class="c" x="270.5" y="90">53795</text><text class="p" x="270.5" y="103">0.00%</text>
<text class="a" x="510.5" y="77">149</text><text class="c" x="510.5" y="90">55583</text><text class="p" x="510.5" y="103">0.00%</text>
<text class="a" x="750.5" y="77">190</text><text class="c" x="750.5" y="90">57827</text><text class="p" x="750.5" y="103">0.00%</text>
<text class="a" x="990.5" y="77">64</text><text class="c" x="990.5" y="90">58211</text><text class="p" x="990.5" y="103">0.00%</text>
</g>

<g id="row17" transform="translate(0,2461)">
<rect class="py" x="31" y="-10" width="180" height="82"/>
<rect class="gr" x="31" width="960" height="61"/>
<rect class="ml" x="271" width="1" height="61"/><rect class="ml" x="511" width="1" height="61"/><rect class="ml" x="751" width="1" height="61"/>
<rect class="bd" x="31.5" y="0.5" width="960" height="61"/>
<use href="#s" class="b" x="31.5" y="45.5"/>
<use href="#s" class="b" x="61.5" y="45.5"/>
<use href="#s" class="b" x="91.5" y="45.5"/>
<use href="#s" class="b" x="121.5" y="45.5"/>
<use href="#s" class="r" x="181.5" y="15.5"/>
<use href="#s" class="y" x="211.5" y="30.5"/>
<circle class="b" cx="241.5" cy="45.5" r="4.8"/>
<circle class="b" cx="301.5" cy="45.5" r="4.8"/>
<circle class="y" cx="391.5" cy="30.5" r="4.8"/>
<circle class="y" cx="421.5" cy="30.5" r="4.8"/>
<circle class="r" cx="511.5" cy="15.5" r="4.8"/>
<circle class="r" cx="541.5" cy="15.5" r="4.8"/>
<circle class="r" cx="661.5" cy="15.5" r="4.8"/>
<circle class="y" cx="691.5" cy="30.5" r="4.8"/>
<circle class="b" cx="721.5" cy="45.5" r="4.8"/>
<circle class="b" cx="781.5" cy="45.5" r="4.8"/>
<circle class="y" cx="871.5" cy="30.5" r="4.8"/>
<circle class="y" cx="901.5" cy="30.5" r="4.8"/>
<rect class="og" x="31" width="180" height="62"/>
<use href="#q" x="61"/><text class="tp" x="66" y="-19">=126</text>
<use href="#q" x="211"/><text class="tp" x="216" y="-19">=121</text>
<use href="#q" x="271"/><text class="tp" x="276" y="-19">=123</text>
<use href="#q" x="511"/><text class="tp" x="516" y="-19">=123</text>
<use href="#q" x="751"/><text class="tp" x="756" y="-19">=124</text>
<text class="mn" x="31.5" y="-7">60</text><text class="mn" x="271.5" y="-7">61</text><text class="mn" x="511.5" y="-7">62</text><text class="mn" x="751.5" y="-7">63</text>
<text class="a" x="270.5" y="77">175</text><text class="c" x="270.5" y="90">59261</text><text class="p" x="270.5" y="103">25.00%</text>
<text class="a" x="510.5" y="77">75</text><text class="c" x="510.5" y="90">59711</text><text class="p" x="510.5" y="103">25.00%</text>
<text class="a" x="750.5" y="77">125</text><text class="c" x="750.5" y="90">60461</text><text class="p" x="750.5" y="103">25.00%</text>
<text class="a" x="990.5" y="77">75</text><text class="c" x="990.5" y="90">60911</text><text class="p" x="990.5" y="103">25.00%</text>
</g>

<g id="row18" transform="translate(0,2602)">
<rect class="gr" x="31" width="960" height="61"/>
<rect class="ml" x="271" width="1" height="61"/><rect class="ml" x="511" width="1" height="61"/><rect class="ml" x="751" width="1" height="61"/>
<rect class="bd" x="31.5" y="0.5" width="960" height="61"/>
<circle class="r" cx="31.5" cy="15.5" r="4.8"/>
<circle class="r" cx="61.5" cy="15.5" r="4.8"/>
<circle class="r" cx="181.5" cy="15.5" r="4.8"/>
<circle class="y" cx="211.5" cy="30.5" r="4.8"/>
<circle class="b" cx="241.5" cy="45.5" r="4.8"/>
<circle class="b" cx="301.5" cy="45.5" r="4.8"/>
<circle class="y" cx="391.5" cy="30.5" r="4.8"/>
<circle class="y" cx="421.5" cy="30.5" r="4.8"/>
<use href="#s" class="r" x="511.5" y="15.5"/>
<use href="#s" class="r" x="541.5" y="15.5"/>
<use href="#s" class="r" x="571.5" y="15.5"/>
<use href="#s" class="r" x="601.5" y="15.5"/>
<use href="#s" class="y" x="631.5" y="30.5"/>
<use href="#s" class="b" x="691.5" y="45.5"/>
<use href="#GQ"/>
<circle class="b" cx="961.5" cy="45.5" r="4.8"/>
<rect class="og" x="511" width="180" height="62"/>
<use href="#q" x="31"/><text class="tp" x="36" y="-19">=126</text>
<use href="#q" x="271"/><text class="tp" x="276" y="-19">=124</text>
<use href="#q" x="511"/><text class="tp" x="516" y="-19">=124</text>
<use href="#q" x="751"/><text class="tp" x="756" y="-19">=122</text>
<text class="mn" x="31.5" y="-7">64</text><text class="mn" x="271.5" y="-7">65</text><text class="mn" x="511.5" y="-7">66</text><text class="mn" x="751.5" y="-7">67</text>
<text class="a" x="270.5" y="77">125</text><text class="c" x="270.5" y="90">61661</text><text class="p" x="270.5" y="103">25.00%</text>
<text class="a" x="510.5" y="77">75</text><text class="c" x="510.5" y="90">62111</text><text class="p" x="510.5" y="103">25.00%</text>
<text class="a" x="750.5" y="77">150</text><text class="c" x="750.5" y="90">63011</text><text class="p" x="750.5" y="103">50.00%</text>
<text class="a" x="990.5" y="77">146</text><text class="c" x="990.5" y="90">63887</text><text class="p" x="990.5" y="103">50.00%</text>
</g>

<g id="row19" transform="translate(0,2743)">
<rect class="gr" x="31" width="960" height="61"/>
<rect class="ml" x="271" width="1" height="61"/><rect class="ml" x="511" width="1" height="61"/><rect class="ml" x="751" width="1" height="61"/>
<rect class="bd" x="31.5" y="0.5" width="960" height="61"/>
<rect class="b" x="31" y="42" width="60" height="7"/>
<circle class="b" cx="31.5" cy="45.5" r="4.8"/>
<circle class="b" cx="121.5" cy="45.5" r="4.8"/>
<circle class="b" cx="151.5" cy="45.5" r="4.8"/>
<circle class="b" cx="181.5" cy="45.5" r="4.8"/>
<circle class="y" cx="211.5" cy="30.5" r="4.8"/>
<circle class="b" cx="241.5" cy="45.5" r="4.8"/>
<use href="#GP"/>
<circle class="b" cx="481.5" cy="45.5" r="4.8"/>
<rect class="b" x="511" y="42" width="60" height="7"/>
<circle class="b" cx="511.5" cy="45.5" r="4.8"/>
<circle class="b" cx="601.5" cy="45.5" r="4.8"/>
<circle class="b" cx="631.5" cy="45.5" r="4.8"/>
<circle class="y" cx="661.5" cy="30.5" r="4.8"/>
<circle class="y" cx="691.5" cy="30.5" r="4.8"/>
<circle class="r" cx="721.5" cy="15.5" r="4.8"/>
<rect class="r" x="751" y="12" width="45" height="7"/>
<rect class="r" x="871" y="12" width="45" height="7"/>
<circle class="r" cx="751.5" cy="15.5" r="4.8"/>
<circle class="r" cx="811.5" cy="15.5" r="4.8"/>
<circle class="r" cx="841.5" cy="15.5" r="4.8"/>
<circle class="r" cx="871.5" cy="15.5" r="4.8"/>
<circle class="r" cx="931.5" cy="15.5" r="4.8"/>
<circle class="r" cx="961.5" cy="15.5" r="4.8"/>
<use href="#q" x="31"/><text class="tp" x="36" y="-19">=123</text>
<use href="#q" x="271"/><text class="tp" x="276" y="-19">=121</text>
<use href="#q" x="511"/><text class="tp" x="516" y="-19">=122</text>
<use href="#q" x="751"/><text class="tp" x="756" y="-19">=122</text>
<text class="mn" x="31.5" y="-7">68</text><text class="mn" x="271.5" y="-7">69</text><text class="mn" x="511.5" y="-7">70</text><text class="mn" x="751.5" y="-7">71</text>
<text class="a" x="270.5" y="77">162</text><text class="c" x="270.5" y="90">64859</text><text class="p" x="270.5" y="103">50.00%</text>
<text class="a" x="510.5" y="77">146</text><text class="c" x="510.5" y="90">65735</text><text class="p" x="510.5" y="103">50.00%</text>
<text class="a" x="750.5" y="77">162</text><text class="c" x="750.5" y="90">66707</text><text class="p" x="750.5" y="103">50.00%</text>
<text class="a" x="990.5" y="77">168</text><text class="c" x="990.5" y="90">67715</text><text class="p" x="990.5" y="103">50.00%</text>
</g>

<g id="row20" transform="translate(0,2884)">
<rect class="gr" x="31" width="960" height="61"/>
<rect class="ml" x="271" width="1" height="61"/><rect class="ml" x="511" width="1" height="61"/><rect class="ml" x="751" width="1" height="61"/>
<rect class="bd" x="31.5" y="0.5" width="960" height="61"/>
<rect class="r" x="31" y="12" width="45" height="7"/>
<circle class="r" cx="31.5" cy="15.5" r="4.8"/>
<circle class="r" cx="91.5" cy="15.5" r="4.8"/>
<circle class="r" cx="121.5" cy="15.5" r="4.8"/>
<circle class="r" cx="151.5" cy="15.5" r="4.8"/>
<circle class="y" cx="181.5" cy="30.5" r="4.8"/>
<circle class="y" cx="211.5" cy="30.5" r="4.8"/>
<circle class="b" cx="241.5" cy="45.5" r="4.8"/>
<rect class="b" x="271" y="42" width="75" height="7"/>
<rect class="b" x="391" y="42" width="45" height="7"/>
<rect class="b" x="481" y="42" width="75" height="7"/>
<circle class="b" cx="271.5" cy="45.5" r="4.8"/>
<circle class="b" cx="361.5" cy="45.5" r="4.8"/>
<circle class="b" cx="391.5" cy="45.5" r="4.8"/>
<circle class="b" cx="451.5" cy="45.5" r="4.8"/>
<circle class="b" cx="481.5" cy="45.5" r="4.8"/>
<circle class="b" cx="571.5" cy="45.5" r="4.8"/>
<circle class="b" cx="601.5" cy="45.5" r="4.8"/>
<circle class="b" cx="631.5" cy="45.5" r="4.8"/>
<circle class="y" cx="661.5" cy="30.5" r="4.8"/>
<circle class="y" cx="691.5" cy="30.5" r="4.8"/>
<circle class="r" cx="721.5" cy="15.5" r="4.8"/>
<rect class="r" x="751" y="12" width="45" height="7"/>
<circle class="r" cx="751.5" cy="15.5" r="4.8"/>
<circle class="r" cx="811.5" cy="15.5" r="4.8"/>
<circle class="r" cx="841.5" cy="15.5" r="4.8"/>
<circle class="r" cx="871.5" cy="15.5" r="4.8"/>
<circle class="r" cx="901.5" cy="15.5" r="4.8"/>
<circle class="r" cx="931.5" cy="15.5" r="4.8"/>
<circle class="r" cx="961.5" cy="15.5" r="4.8"/>
<use href="#q" x="31"/><text class="tp" x="36" y="-19">=124</text>
<use href="#q" x="271"/><text class="tp" x="276" y="-19">=122</text>
<use href="#q" x="511"/><text class="tp" x="516" y="-19">=124</text>
<use href="#q" x="751"/><text class="tp" x="756" y="-19">=122</text>
<text class="mn" x="31.5" y="-7">72</text><text class="mn" x="271.5" y="-7">73</text><text class="mn" x="511.5" y="-7">74</text><text class="mn" x="751.5" y="-7">75</text>
<text class="a" x="270.5" y="77">184</text><text class="c" x="270.5" y="90">68819</text><text class="p" x="270.5" y="103">50.00%</text>
<text class="a" x="510.5" y="77">155</text><text class="c" x="510.5" y="90">69749</text><text class="p" x="510.5" y="103">50.00%</text>
<text class="a" x="750.5" y="77">159</text><text class="c" x="750.5" y="90">70703</text><text class="p" x="750.5" y="103">50.00%</text>
<text class="a" x="990.5" y="77">184</text><text class="c" x="990.5" y="90">71807</text><text class="p" x="990.5" y="103">50.00%</text>
</g>

<g id="row21" transform="translate(0,3025)">
<rect class="gr" x="31" width="960" height="61"/>
<rect class="ml" x="271" width="1" height="61"/><rect class="ml" x="511" width="1" height="61"/><rect class="ml" x="751" width="1" height="61"/>
<rect class="bd" x="31.5" y="0.5" width="960" height="61"/>
<use href="#s" class="r" x="31.5" y="15.5"/>
<use href="#s" class="r" x="61.5" y="15.5"/>
<use href="#s" class="r" x="91.5" y="15.5"/>
<use href="#s" class="r" x="121.5" y="15.5"/>
<use href="#s" class="r" x="151.5" y="15.5"/>
<use href="#s" class="y" x="211.5" y="30.5"/>
<use href="#GP"/>
<circle class="b" cx="481.5" cy="45.5" r="4.8"/>
<rect class="b" x="511" y="42" width="60" height="7"/>
<circle class="b" cx="511.5" cy="45.5" r="4.8"/>
<circle class="b" cx="601.5" cy="45.5" r="4.8"/>
<circle class="b" cx="631.5" cy="45.5" r="4.8"/>
<circle class="b" cx="661.5" cy="45.5" r="4.8"/>
<circle class="y" cx="691.5" cy="30.5" r="4.8"/>
<circle class="b" cx="721.5" cy="45.5" r="4.8"/>
<rect class="g" x="751" y="-3" width="75" height="7"/>
<rect class="g" x="871" y="-3" width="45" height="7"/>
<circle class="g" cx="751.5" cy="0.5" r="4.8"/>
<circle class="g" cx="841.5" cy="0.5" r="4.8"/>
<circle class="g" cx="871.5" cy="0.5" r="4.8"/>
<circle class="g" cx="931.5" cy="0.5" r="4.8"/>
<circle class="y" cx="961.5" cy="30.5" r="4.8"/>
<rect class="og" x="31" width="180" height="62"/>
<use href="#q" x="31"/><text class="tp" x="36" y="-19">=125</text>
<use href="#q" x="271"/><text class="tp" x="276" y="-19">=121</text>
<use href="#q" x="511"/><text class="tp" x="516" y="-19">=123</text>
<use href="#q" x="751"/><text class="tp" x="756" y="-19">=122</text>
<text class="mn" x="31.5" y="-7">76</text><text class="mn" x="271.5" y="-7">77</text><text class="mn" x="511.5" y="-7">78</text><text class="mn" x="751.5" y="-7">79</text>
<text class="a" x="270.5" y="77">150</text><text class="c" x="270.5" y="90">72707</text><text class="p" x="270.5" y="103">75.00%</text>
<text class="a" x="510.5" y="77">146</text><text class="c" x="510.5" y="90">73583</text><text class="p" x="510.5" y="103">75.00%</text>
<text class="a" x="750.5" y="77">162</text><text class="c" x="750.5" y="90">74555</text><text class="p" x="750.5" y="103">75.00%</text>
<text class="a" x="990.5" y="77">149</text><text class="c" x="990.5" y="90">75449</text><text class="p" x="990.5" y="103">75.00%</text>
</g>

<g id="row22" transform="translate(0,3166)">
<rect class="gr" x="31" width="960" height="61"/>
<rect class="ml" x="271" width="1" height="61"/><rect class="ml" x="511" width="1" height="61"/><rect class="ml" x="751" width="1" height="61"/>
<rect class="bd" x="31.5" y="0.5" width="960" height="61"/>
<rect class="b" x="31" y="42" width="45" height="7"/>
<rect class="b" x="151" y="42" width="45" height="7"/>
<circle class="b" cx="31.5" cy="45.5" r="4.8"/>
<circle class="b" cx="91.5" cy="45.5" r="4.8"/>
<circle class="b" cx="121.5" cy="45.5" r="4.8"/>
<circle class="b" cx="151.5" cy="45.5" r="4.8"/>
<circle class="y" cx="211.5" cy="30.5" r="4.8"/>
<circle class="b" cx="241.5" cy="45.5" r="4.8"/>
<use href="#GP"/>
<circle class="b" cx="481.5" cy="45.5" r="4.8"/>
<rect class="b" x="511" y="42" width="60" height="7"/>
<circle class="b" cx="511.5" cy="45.5" r="4.8"/>
<circle class="b" cx="601.5" cy="45.5" r="4.8"/>
<circle class="b" cx="631.5" cy="45.5" r="4.8"/>
<circle class="b" cx="661.5" cy="45.5" r="4.8"/>
<circle class="y" cx="691.5" cy="30.5" r="4.8"/>
<circle class="b" cx="721.5" cy="45.5" r="4.8"/>
<use href="#GQ"/>
<circle class="y" cx="961.5" cy="30.5" r="4.8"/>
<rect class="op" x="661" width="8" height="62"/>
<rect class="ob" x="669" width="323" height="62"/>
<use href="#q" x="31"/><text class="tp" x="36" y="-19">=123</text>
<use href="#q" x="271"/><text class="tp" x="276" y="-19">=122</text>
<use href="#q" x="511"/><text class="tp" x="516" y="-19">=124</text>
<use href="#q" x="751"/><text class="tp" x="756" y="-19">=123</text>
<text class="mn" x="31.5" y="-7">80</text><text class="mn" x="271.5" y="-7">81</text><text class="mn" x="511.5" y="-7">82</text><text class="mn" x="751.5" y="-7">83</text>
<text class="a" x="270.5" y="77">168</text><text class="c" x="270.5" y="90">76457</text><text class="p" x="270.5" y="103">75.00%</text>
<text class="a" x="510.5" y="77">146</text><text class="c" x="510.5" y="90">77333</text><text class="p" x="510.5" y="103">75.00%</text>
<text class="a" x="750.5" y="77">162</text><text class="c" x="750.5" y="90">78755</text><text class="p" x="750.5" y="103">70.81%</text>
<text class="a" x="990.5" y="77">146</text><text class="c" x="990.5" y="90">80507</text><text class="p" x="990.5" y="103">58.31%</text>
</g>

<g id="row23" transform="translate(0,3307)">
<rect class="gr" x="31" width="960" height="61"/>
<rect class="ml" x="271" width="1" height="61"/><rect class="ml" x="511" width="1" height="61"/><rect class="ml" x="751" width="1" height="61"/>
<rect class="bd" x="31.5" y="0.5" width="960" height="61"/>
<circle class="b" cx="31.5" cy="45.5" r="4.8"/>
<circle class="b" cx="61.5" cy="45.5" r="4.8"/>
<circle class="y" cx="91.5" cy="30.5" r="4.8"/>
<circle class="b" cx="121.5" cy="45.5" r="4.8"/>
<circle class="o" cx="151.5" cy="60.5" r="4.8"/>
<circle class="b" cx="181.5" cy="45.5" r="4.8"/>
<circle class="y" cx="211.5" cy="30.5" r="4.8"/>
<circle class="b" cx="241.5" cy="45.5" r="4.8"/>
<use href="#GP"/>
<circle class="b" cx="481.5" cy="45.5" r="4.8"/>
<rect class="b" x="511" y="42" width="60" height="7"/>
<rect class="b" x="631" y="42" width="45" height="7"/>
<circle class="b" cx="511.5" cy="45.5" r="4.8"/>
<circle class="b" cx="601.5" cy="45.5" r="4.8"/>
<circle class="b" cx="631.5" cy="45.5" r="4.8"/>
<circle class="y" cx="691.5" cy="30.5" r="4.8"/>
<circle class="b" cx="721.5" cy="45.5" r="4.8"/>
<rect class="g" x="751" y="-3" width="45" height="7"/>
<rect class="g" x="871" y="-3" width="45" height="7"/>
<circle class="g" cx="751.5" cy="0.5" r="4.8"/>
<circle class="g" cx="811.5" cy="0.5" r="4.8"/>
<circle class="g" cx="841.5" cy="0.5" r="4.8"/>
<circle class="g" cx="871.5" cy="0.5" r="4.8"/>
<circle class="g" cx="931.5" cy="0.5" r="4.8"/>
<circle class="y" cx="961.5" cy="30.5" r="4.8"/>
<rect class="ob" x="31" width="961" height="62"/>
<use href="#q" x="31"/><text class="tp" x="36" y="-19">=123</text>
<use href="#q" x="271"/><text class="tp" x="276" y="-19">=122</text>
<use href="#q" x="511"/><text class="tp" x="516" y="-19">=123</text>
<use href="#q" x="751"/><text class="tp" x="756" y="-19">=123</text>
<text class="mn" x="31.5" y="-7">84</text><text class="mn" x="271.5" y="-7">85</text><text class="mn" x="511.5" y="-7">86</text><text class="mn" x="751.5" y="-7">87</text>
<text class="a" x="270.5" y="77">200</text><text class="c" x="270.5" y="90">82907</text><text class="p" x="270.5" y="103">45.81%</text>
<text class="a" x="510.5" y="77">146</text><text class="c" x="510.5" y="90">84659</text><text class="p" x="510.5" y="103">33.31%</text>
<text class="a" x="750.5" y="77">146</text><text class="c" x="750.5" y="90">86411</text><text class="p" x="750.5" y="103">20.81%</text>
<text class="a" x="990.5" y="77">168</text><text class="c" x="990.5" y="90">88427</text><text class="p" x="990.5" y="103">8.31%</text>
</g>

<g id="row24" transform="translate(0,3448)">
<rect class="gr" x="31" width="960" height="61"/>
<rect class="ml" x="271" width="1" height="61"/><rect class="ml" x="511" width="1" height="61"/><rect class="ml" x="751" width="1" height="61"/>
<rect class="bd" x="31.5" y="0.5" width="960" height="61"/>
<rect class="b" x="31" y="42" width="45" height="7"/>
<circle class="b" cx="31.5" cy="45.5" r="4.8"/>
<circle class="b" cx="91.5" cy="45.5" r="4.8"/>
<circle class="b" cx="121.5" cy="45.5" r="4.8"/>
<circle class="y" cx="151.5" cy="30.5" r="4.8"/>
<circle class="b" cx="166.5" cy="45.5" r="4.8"/>
<circle class="b" cx="181.5" cy="45.5" r="4.8"/>
<circle class="y" cx="211.5" cy="30.5" r="4.8"/>
<circle class="b" cx="241.5" cy="45.5" r="4.8"/>
<use href="#GP"/>
<circle class="y" cx="481.5" cy="30.5" r="4.8"/>
<rect class="b" x="511" y="42" width="45" height="7"/>
<rect class="b" x="661" y="42" width="45" height="7"/>
<circle class="b" cx="511.5" cy="45.5" r="4.8"/>
<circle class="b" cx="571.5" cy="45.5" r="4.8"/>
<circle class="b" cx="601.5" cy="45.5" r="4.8"/>
<circle class="b" cx="631.5" cy="45.5" r="4.8"/>
<circle class="b" cx="661.5" cy="45.5" r="4.8"/>
<circle class="b" cx="721.5" cy="45.5" r="4.8"/>
<rect class="g" x="751" y="-3" width="60" height="7"/>
<circle class="g" cx="751.5" cy="0.5" r="4.8"/>
<rect class="ob" x="31" width="638" height="62"/>
<use href="#q" x="31"/><text class="tp" x="36" y="-19">=124</text>
<use href="#q" x="271"/><text class="tp" x="276" y="-19">=123</text>
<use href="#q" x="511"/><text class="tp" x="516" y="-19">=124</text>
<text class="mn" x="31.5" y="-7">88</text><text class="mn" x="271.5" y="-7">89</text><text class="mn" x="511.5" y="-7">90</text><text class="mn" x="751.5" y="-7">91</text>
<text class="a" x="270.5" y="77">209</text><text class="c" x="270.5" y="90">90935</text><text class="p" x="270.5" y="103">0.00%</text>
<text class="a" x="510.5" y="77">146</text><text class="c" x="510.5" y="90">92687</text><text class="p" x="510.5" y="103">0.00%</text>
<text class="a" x="750.5" y="77">168</text><text class="c" x="750.5" y="90">94511</text><text class="p" x="750.5" y="103">0.00%</text>
<text class="a" x="990.5" y="77">37</text><text class="c" x="990.5" y="90">94733</text><text class="p" x="990.5" y="103">0.00%</text>
</g>
</svg>
